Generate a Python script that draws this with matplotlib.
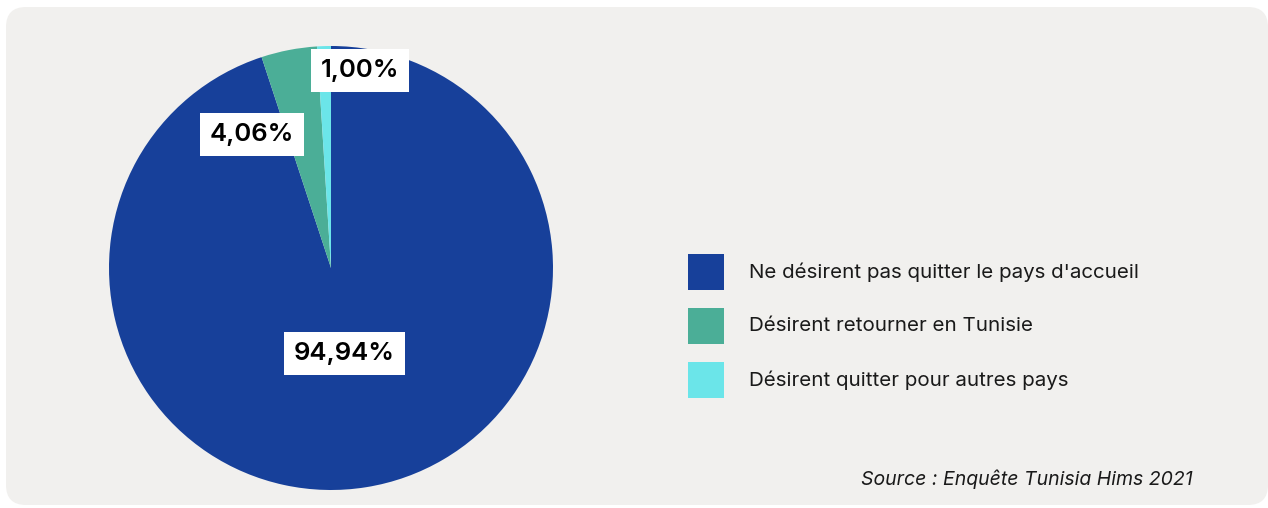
import numpy as np
import matplotlib.pyplot as plt
from matplotlib.patches import FancyBboxPatch

labels = ["Ne désirent pas quitter le pays d'accueil",
          "Désirent retourner en Tunisie",
          "Désirent quitter pour autres pays"]
values = [94.94, 4.06, 1.00]
colors = ["#17409A", "#4BAE97", "#6BE5E9"]
source = "Source : Enquête Tunisia Hims 2021"

# label placement: (angle offset from slice middle, distance from centre)
label_pos = [(0.0, 0.39), (19.8, 0.70), (-10.1, 0.90)]

W, H = 1268, 508
fig = plt.figure(figsize=(W / 100, H / 100), dpi=100)
fig.patch.set_facecolor("white")

# background axes in pixel coordinates (y down)
bgax = fig.add_axes([0, 0, 1, 1], zorder=-1)
bgax.set_xlim(0, W)
bgax.set_ylim(H, 0)
bgax.axis("off")
bgax.add_patch(FancyBboxPatch((6, 7), 1262, 498, boxstyle="round,pad=0,rounding_size=20",
                              facecolor="#F1F0EE", edgecolor="none"))

cx, cy, r = 331, H - 268, 222
ax = fig.add_axes([(cx - r) / W, (cy - r) / H, 2 * r / W, 2 * r / H])
wedges, _ = ax.pie(values, colors=colors, startangle=90, counterclock=False,
                   radius=1, wedgeprops=dict(linewidth=0))
ax.set_xlim(-1, 1)
ax.set_ylim(-1, 1)
ax.axis("off")

for w, v, (off, dist) in zip(wedges, values, label_pos):
    mid = (w.theta1 + w.theta2) / 2 + off
    x = dist * np.cos(np.radians(mid))
    y = dist * np.sin(np.radians(mid))
    ax.text(x, y, f"{v:.2f}".replace(".", ",") + "%", ha="center", va="center",
            fontsize=18.5, fontweight="semibold", family="Inter", color="black",
            bbox=dict(boxstyle="square,pad=0.38", facecolor="white",
                      edgecolor="none"))

# legend
for i, (lab, col) in enumerate(zip(labels, colors)):
    ytop = 254 + i * 54
    bgax.add_patch(plt.Rectangle((688, ytop), 36, 36, facecolor=col, edgecolor="none"))
    bgax.text(749, ytop + 18, lab, ha="left", va="center",
              fontsize=14.8, family="Inter", color="#1a1a1a")

bgax.text(1193, 479, source, ha="right", va="center",
          fontsize=14, family="Inter", style="italic", color="#1a1a1a")

fig.savefig("out.png", dpi=100, facecolor=fig.get_facecolor())
